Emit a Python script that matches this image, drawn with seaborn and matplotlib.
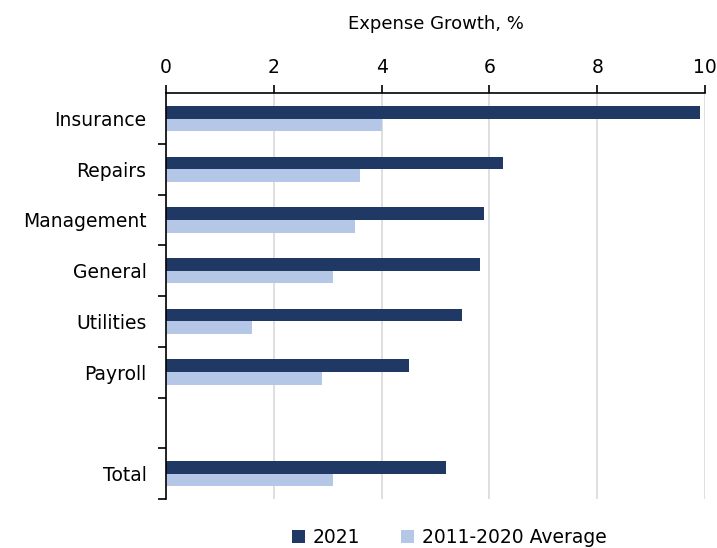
import matplotlib
matplotlib.use("Agg")
import matplotlib.pyplot as plt
import numpy as np
import pandas as pd
import seaborn as sns

categories = ["Insurance", "Repairs", "Management", "General", "Utilities", "Payroll", " ", "Total"]
growth_2021 = [9.9, 6.25, 5.9, 5.83, 5.5, 4.5, np.nan, 5.2]
growth_avg = [4.0, 3.6, 3.5, 3.1, 1.6, 2.9, np.nan, 3.1]
series_names = ["2021", "2011-2020 Average"]
colors = ["#203864", "#b4c7e7"]

df = pd.DataFrame({
    "category": categories * 2,
    "value": growth_2021 + growth_avg,
    "series": [series_names[0]] * len(categories) + [series_names[1]] * len(categories),
})

sns.set_style("white")
plt.rcParams["font.family"] = ["DejaVu Sans"]
plt.rcParams["text.color"] = "black"
plt.rcParams["axes.labelcolor"] = "black"
plt.rcParams["xtick.color"] = "black"
plt.rcParams["ytick.color"] = "black"

fig = plt.figure(figsize=(7.17, 5.48), dpi=100)
ax = fig.add_axes([0.2315, 0.0894, 0.7518, 0.7406])

sns.barplot(data=df, y="category", x="value", hue="series", order=categories,
            hue_order=series_names, palette=colors, orient="h", width=0.5,
            saturation=1, linewidth=0, ax=ax, legend=True)

ax.set_xlim(0, 10)
ax.set_ylim(len(categories) - 0.5, -0.5)
ax.xaxis.tick_top()
ax.xaxis.set_label_position("top")
ax.set_xticks(range(0, 11, 2))
ax.set_xlabel("Expense Growth, %", fontsize=13, labelpad=21)
ax.set_ylabel("")
ax.grid(axis="x", color="#d9d9d9", linewidth=1.2)
ax.set_axisbelow(True)

for side in ["right", "bottom"]:
    ax.spines[side].set_visible(False)
for side in ["top", "left"]:
    ax.spines[side].set_color("black")
    ax.spines[side].set_linewidth(1.2)

ax.tick_params(axis="x", which="major", direction="out", length=6, width=1.2,
               colors="black", labelsize=13.5, pad=5.5)
ax.set_yticks(np.arange(len(categories)) + 0.5, minor=True)
ax.set_yticks(np.arange(len(categories)))
ax.set_yticklabels(categories)
ax.tick_params(axis="y", which="major", length=0, labelsize=13.5, pad=14, labelcolor="black")
ax.tick_params(axis="y", which="minor", direction="out", length=6, width=1.2, color="black", left=True)

handles, labels = ax.get_legend_handles_labels()
ax.legend(handles, labels, loc="center", bbox_to_anchor=(0.525, -0.096), ncol=2,
          frameon=False, fontsize=13.5, handlelength=0.7, handleheight=0.7,
          handletextpad=0.4, columnspacing=2.2)

fig.savefig("out.png", dpi=100)
